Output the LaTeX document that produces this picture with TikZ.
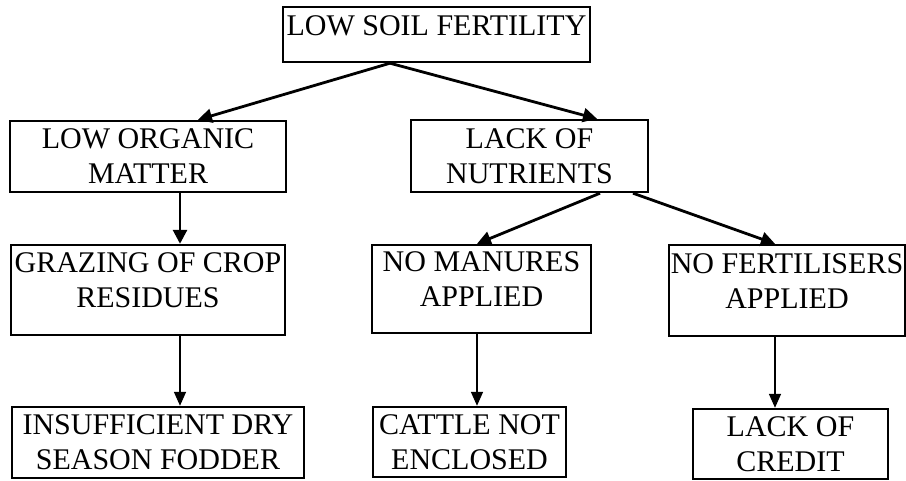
\documentclass[tikz,border=0pt]{standalone}
\usepackage{fontspec}
\setmainfont{Liberation Serif}
\usetikzlibrary{arrows.meta, calc}

\tikzset{
  box/.style={draw, line width=1.2pt, inner sep=0pt, align=center, font=\fontsize{15}{17.5}\selectfont},
  raised/.style={text depth=#1},
  bigarrow/.style={line width=1.4pt, -{Triangle[length=7pt, width=7pt]}},
  thinarrow/.style={line width=0.8pt, -{Triangle[length=7pt, width=6pt]}}
}

\begin{document}
\begin{tikzpicture}[x=0.5pt, y=-0.5pt]
\useasboundingbox (0,0) rectangle (906,481);
% boxes listed top to bottom, left to right
\node[box, raised=8.5pt, minimum width=153.5pt, minimum height=27.5pt] (fertility) at (436.5,34.5) {LOW SOIL FERTILITY};
\node[box, minimum width=138pt, minimum height=35.5pt] (organic) at (148,156.5) {LOW ORGANIC\\MATTER};
\node[box, minimum width=118.5pt, minimum height=36pt] (nutrients) at (529.5,156) {LACK OF\\NUTRIENTS};
\node[box, raised=10pt, minimum width=137pt, minimum height=45pt] (grazing) at (148,290) {GRAZING OF CROP\\RESIDUES};
\node[box, raised=10pt, minimum width=109.5pt, minimum height=44pt] (manures) at (481.5,289) {NO MANURES\\APPLIED};
\node[box, raised=9pt, minimum width=118pt, minimum height=45.5pt] (fertilisers) at (787,290.5) {NO FERTILISERS\\APPLIED};
\node[box, minimum width=146pt, minimum height=35.5pt] (fodder) at (158,442.5) {INSUFFICIENT DRY\\SEASON FODDER};
\node[box, minimum width=96.5pt, minimum height=35pt] (cattle) at (469.5,442) {CATTLE NOT\\ENCLOSED};
\node[box, minimum width=97.5pt, minimum height=35pt] (credit) at (790.5,444) {LACK OF\\CREDIT};
%
% arrow ends off the middle of the boxes
\coordinate (topfoot) at ($(fertility.south)+(-46.5,0)$);
\coordinate (orgfoot) at ($(organic.south)+(32,0)$);
\coordinate (nutleft) at ($(nutrients.south)+(70.5,0)$);
\coordinate (nutright) at ($(nutrients.south)+(103.5,0)$);
\coordinate (grazfoot) at ($(grazing.south)+(32,0)$);
\coordinate (manfoot) at ($(manures.south)+(-4.5,0)$);
\coordinate (fertfoot) at ($(fertilisers.south)+(-12,0)$);
%
\draw[bigarrow] (topfoot) -- ($(organic.north)+(50,0)$);
\draw[bigarrow] (topfoot) -- ($(nutrients.north)+(67.5,0)$);
\draw[bigarrow] (orgfoot) -- (orgfoot |- grazing.north);
\draw[bigarrow] (nutleft) -- ($(manures.north)+(-4.5,0)$);
\draw[bigarrow] (nutright) -- ($(fertilisers.north)+(-12,0)$);
\draw[thinarrow] (grazfoot) -- (grazfoot |- fodder.north);
\draw[thinarrow] (manfoot) -- (manfoot |- cattle.north);
\draw[thinarrow] (fertfoot) -- (fertfoot |- credit.north);
\end{tikzpicture}
\end{document}
